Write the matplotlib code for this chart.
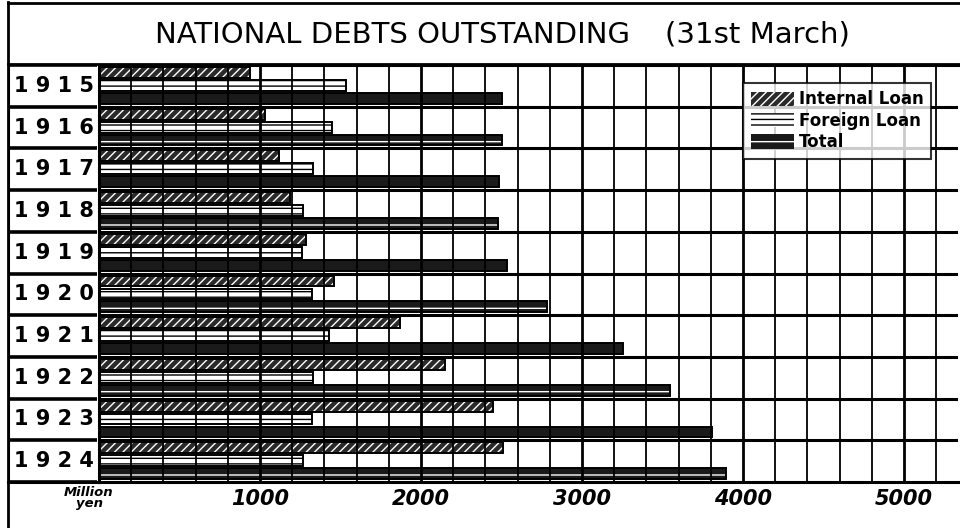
import matplotlib
matplotlib.use("Agg")
import matplotlib.pyplot as plt
import matplotlib.font_manager as fm

years = ["1915", "1916", "1917", "1918", "1919", "1920", "1921", "1922", "1923", "1924"]
internal_loan = [938, 1031, 1118, 1186, 1286, 1460, 1870, 2149, 2447, 2509]
foreign_loan = [1534, 1447, 1329, 1267, 1261, 1323, 1429, 1329, 1323, 1267]
total = [2501, 2501, 2485, 2478, 2534, 2783, 3255, 3547, 3807, 3894]
tick_values = [1000, 2000, 3000, 4000, 5000]
tick_labels = ["1000", "2000", "3000", "4000", "5000"]
series_names = ["Internal Loan", "Foreign Loan", "Total"]

plt.rcParams["hatch.linewidth"] = 1.0
names = {f.name for f in fm.fontManager.ttflist}
title_font = "Liberation Sans Narrow" if "Liberation Sans Narrow" in names else "DejaVu Sans"

W, H = 960, 528
fig = plt.figure(figsize=(W / 100, H / 100), dpi=100)
fig.patch.set_facecolor("white")

top_px, bot_px = 65, 482
ax = fig.add_axes([99 / W, 1 - bot_px / H, (958 - 99) / W, (bot_px - top_px) / H])
lab = fig.add_axes([8 / W, 1 - bot_px / H, (97 - 8) / W, (bot_px - top_px) / H])

n = len(years)
idx = list(range(n))
h = 0.26
y_int = [i + 0.18 for i in idx]
y_for = [i + 0.49 for i in idx]
y_tot = [i + 0.80 for i in idx]

b1 = ax.barh(y_int, internal_loan, height=h, color="#2a2a2a", edgecolor="white",
             hatch="////", linewidth=0, zorder=2, label=series_names[0])
b2 = ax.barh(y_for, foreign_loan, height=h, color="white", edgecolor="black",
             hatch="---", linewidth=0, zorder=2, label=series_names[1])
b3 = ax.barh(y_tot, total, height=h, color="#1a1a1a", edgecolor="white",
             hatch="-", linewidth=0, zorder=2, label=series_names[2])
for yy, vals in ((y_int, internal_loan), (y_for, foreign_loan), (y_tot, total)):
    ax.barh(yy, vals, height=h, fill=False, edgecolor="black", linewidth=1.4, zorder=4)

ax.set_xlim(0, 5335)
ax.set_ylim(n, 0)
for v in range(200, 5400, 200):
    ax.axvline(v, color="black", lw=2.0 if v % 1000 == 0 else 1.3, zorder=3)
for i in range(1, n):
    ax.axhline(i, color="black", lw=2.2, zorder=3)
ax.set_yticks([])
ax.set_xticks(tick_values)
ax.set_xticklabels(tick_labels, fontsize=15, fontstyle="italic", fontweight="bold")
ax.tick_params(axis="x", length=0, pad=5)
for s in ax.spines.values():
    s.set_linewidth(2.2)
ax.spines["right"].set_visible(False)

lab.set_xlim(0, 1)
lab.set_ylim(n, 0)
lab.axis("off")
for i, yr in enumerate(years):
    lab.text(0.52, i + 0.5, " ".join(yr), ha="center", va="center", fontsize=15, fontweight="bold")
for i in range(0, n + 1):
    lab.axhline(i, color="black", lw=2.6)
lab.axvline(0, color="black", lw=2.2)

# outer frame and title box
fig.add_artist(plt.Line2D([8 / W, 8 / W], [0, 1 - 2 / H], color="black", lw=2))
fig.add_artist(plt.Line2D([8 / W, 960 / W], [1 - 3 / H, 1 - 3 / H], color="black", lw=2))
fig.add_artist(plt.Line2D([8 / W, 960 / W], [1 - 64 / H, 1 - 64 / H], color="black", lw=2))
fig.add_artist(plt.Line2D([8 / W, 99 / W], [1 - bot_px / H, 1 - bot_px / H], color="black", lw=2.2))

fig.text(155 / W, 1 - 35 / H, "NATIONAL DEBTS OUTSTANDING", fontsize=21, family=title_font,
         ha="left", va="center")
fig.text(665 / W, 1 - 35 / H, "(31st March)", fontsize=21, family=title_font,
         ha="left", va="center")

fig.text(89 / W, 1 - 492 / H, "Million", fontsize=9.5, fontstyle="italic", fontweight="bold",
         ha="center", va="center")
fig.text(89 / W, 1 - 504 / H, "yen", fontsize=9.5, fontstyle="italic", fontweight="bold",
         ha="center", va="center")

leg = ax.legend(handles=[b1, b2, b3], loc="upper left", bbox_to_anchor=(743 / W, 1 - 83 / H),
                bbox_transform=fig.transFigure, fontsize=12, frameon=True, fancybox=False,
                handlelength=2.6, handleheight=0.95, handletextpad=0.3, labelspacing=0.2,
                borderpad=0.45, borderaxespad=0)
leg.get_frame().set_edgecolor("black")
leg.get_frame().set_linewidth(1.5)
leg.set_zorder(10)
for t in leg.get_texts():
    t.set_fontweight("bold")

fig.savefig("out.png", dpi=100)
